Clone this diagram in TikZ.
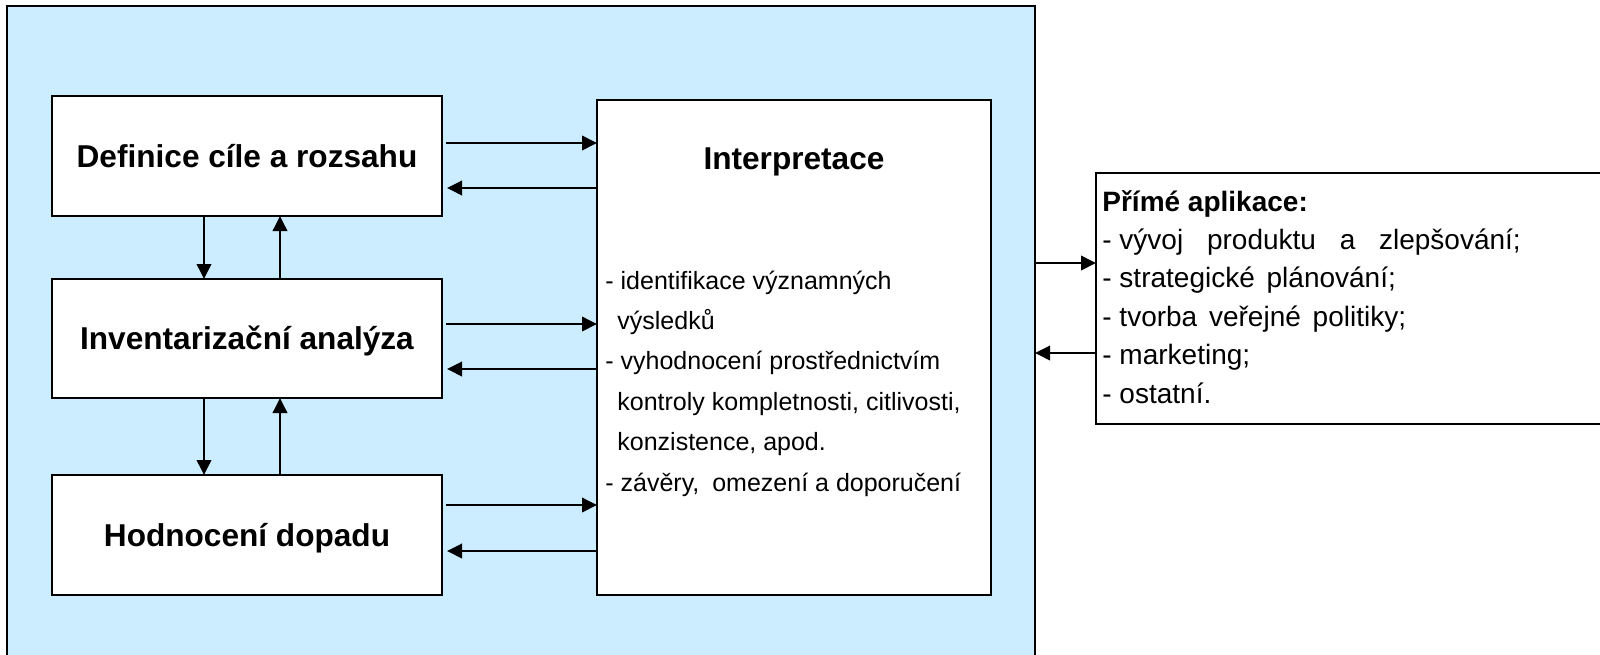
\documentclass[tikz,border=0pt]{standalone}
\usepackage{fontspec}
\setmainfont{Liberation Sans}
\usetikzlibrary{arrows.meta}
\definecolor{bgblue}{RGB}{204,236,255}
\begin{document}
\begin{tikzpicture}[x=0.5pt,y=-0.5pt,
  box/.style={draw=black, line width=1.15pt, fill=white, inner sep=0pt, outer sep=0pt,
              font=\fontsize{15.8}{18}\selectfont\bfseries, text height=11.3pt, text depth=0pt},
  arr/.style={line width=1.15pt, -{Triangle[length=7.5pt,width=7.2pt]}},
  bul/.style={anchor=base west, inner sep=0pt, font=\fontsize{12.5}{14}\selectfont},
  app/.style={anchor=base west, inner sep=0pt, font=\fontsize{14}{16}\selectfont}]
\useasboundingbox (0,0) rectangle (1600,654);
% outer light-blue frame
\node[draw=black, line width=1.15pt, fill=bgblue, minimum width=514pt, minimum height=325pt,
      inner sep=0pt, outer sep=0pt] (outer) at (521,331) {};
% left boxes
\node[box, minimum width=195pt, minimum height=60pt] (def) at (247,156) {Definice cíle a rozsahu};
\node[box, minimum width=195pt, minimum height=59.5pt] (inv) at (247,338.5) {Inventarizační analýza};
\node[box, minimum width=195pt, minimum height=60pt] (hod) at (247,535) {Hodnocení dopadu};
% interpretation box
\node[box, minimum width=197pt, minimum height=247.5pt] (interp) at (794,347.5) {};
\node[inner sep=0pt, font=\fontsize{15.8}{18}\selectfont\bfseries, text height=11.3pt, text depth=0pt]
      (ititle) at (794,158) {Interpretace};
\node[bul] (ib1) at (605,289) {- identifikace významných};
\node[bul] (ib2) at (617,329.4) {výsledků};
\node[bul] (ib3) at (605,369.8) {- vyhodnocení prostřednictvím};
\node[bul] (ib4) at (617,410.2) {kontroly kompletnosti, citlivosti,};
\node[bul] (ib5) at (617,450.6) {konzistence, apod.};
\node[bul] (ib6) at (605,491) {- závěry,\hspace{3pt} omezení a doporučení};
% applications box
\node[draw=black, line width=1.15pt, fill=white, minimum width=257pt, minimum height=125.5pt,
      inner sep=0pt, outer sep=0pt] (apps) at (1353,298.5) {};
\node[app, font=\fontsize{14}{16}\selectfont\bfseries] (ra0) at (1102,211) {Přímé aplikace:};
\node[app] (ra1) at (1102,249.4) {- vývoj\hspace{8pt} produktu\hspace{8pt} a\hspace{8pt} zlepšování;};
\node[app] (ra2) at (1102,287.8) {- strategické\hspace{2pt} plánování;};
\node[app] (ra3) at (1102,326.2) {- tvorba\hspace{2pt} veřejné\hspace{2pt} politiky;};
\node[app] (ra4) at (1102,364.6) {- marketing;};
\node[app] (ra5) at (1102,403) {- ostatní.};
% vertical arrows
\draw[arr] (def.south -| 204,0) -- (inv.north -| 204,0);
\draw[arr] (inv.north -| 280,0) -- (def.south -| 280,0);
\draw[arr] (inv.south -| 204,0) -- (hod.north -| 204,0);
\draw[arr] (hod.north -| 280,0) -- (inv.south -| 280,0);
% horizontal arrows
\draw[arr, shorten <=2pt] (def.east |- 0,143) -- (interp.west |- 0,143);
\draw[arr, shorten >=2.5pt] (interp.west |- 0,188) -- (def.east |- 0,188);
\draw[arr, shorten <=2pt] (inv.east |- 0,324) -- (interp.west |- 0,324);
\draw[arr, shorten >=2.5pt] (interp.west |- 0,369) -- (inv.east |- 0,369);
\draw[arr, shorten <=2pt] (hod.east |- 0,505) -- (interp.west |- 0,505);
\draw[arr, shorten >=2.5pt] (interp.west |- 0,551) -- (hod.east |- 0,551);
% outer to applications
\draw[arr] (outer.east |- 0,263) -- (apps.west |- 0,263);
\draw[arr] (apps.west |- 0,353) -- (outer.east |- 0,353);
\end{tikzpicture}
\end{document}
